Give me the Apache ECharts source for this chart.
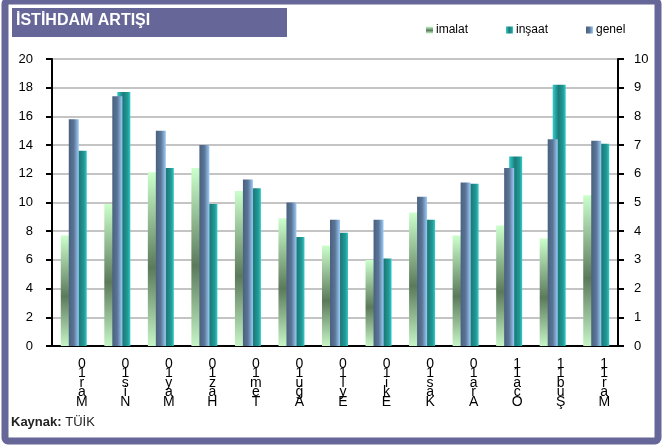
<!DOCTYPE html>
<html>
<head>
<meta charset="utf-8">
<script src="https://cdn.jsdelivr.net/npm/echarts@6/dist/echarts.min.js"></script>
<style>
  html, body { margin: 0; padding: 0; background: #fff; }
  #chart { width: 663px; height: 446px; }
</style>
</head>
<body>
<div id="chart"></div>
<script>
// aylar (etiketler ters çevrilip alt alta yazılıyor)
var months = ['Mar10', 'Nis10', 'May10', 'Haz10', 'Tem10', 'Ağu10', 'Eyl10',
              'Eki10', 'Kas10', 'Ara10', 'Oca11', 'Şub11', 'Mar11'];
// sol eksen
var imalat = [7.7, 9.9, 12.1, 12.4, 10.8, 8.9, 7.0, 6.0, 9.3, 7.7, 8.4, 7.5, 10.5];
var insaat = [13.6, 17.7, 12.4, 9.9, 11.0, 7.6, 7.9, 6.1, 8.8, 11.3, 13.2, 18.2, 14.1];
// sağ eksen
var genel = [7.9, 8.7, 7.5, 7.0, 5.8, 5.0, 4.4, 4.4, 5.2, 5.7, 6.2, 7.2, 7.15];
var leftTicks = [0, 20, 2];
var rightTicks = [0, 10, 1];

var purple = '#666699';
var font = 'Liberation Sans, Arial, sans-serif';

var chart = echarts.init(document.getElementById('chart'));

var imalatColor = new echarts.graphic.LinearGradient(0, 0, 0, 1, [
  { offset: 0, color: '#ccffcc' },
  { offset: 0.55, color: '#5b7a5b' },
  { offset: 1, color: '#c6f5c6' }
]);
var insaatColor = new echarts.graphic.LinearGradient(0, 0, 1, 0, [
  { offset: 0, color: '#33cccc' },
  { offset: 0.45, color: '#1b7b78' },
  { offset: 0.8, color: '#239a96' },
  { offset: 1, color: '#33cccc' }
]);
var genelColor = new echarts.graphic.LinearGradient(0, 0, 1, 0, [
  { offset: 0, color: '#4a6180' },
  { offset: 0.5, color: '#5b7596' },
  { offset: 1, color: '#9ccbf7' }
]);

function legendAt(name, left) {
  return {
    data: [name], left: left, top: 19, itemWidth: 7, itemHeight: 7,
    itemGap: 0, selectedMode: false, icon: 'rect',
    textStyle: { fontFamily: font, fontSize: 12, color: '#000', padding: [0, 0, 0, -2] }
  };
}

var option = {
  animation: false,
  textStyle: { fontFamily: font },
  graphic: [
    { type: 'rect', shape: { x: 5, y: 1, width: 653, height: 440, r: 3 },
      style: { fill: 'none', stroke: purple, lineWidth: 7 } },
    { type: 'rect', shape: { x: 12, y: 8, width: 275, height: 29 },
      style: { fill: purple } },
    { type: 'text', left: 16, top: 13,
      style: { text: 'İSTİHDAM ARTIŞI', fill: '#fff', font: 'bold 16px ' + font } },
    { type: 'text', left: 11, top: 416,
      style: { text: '{b|Kaynak:} TÜİK', fill: '#222', font: '13px ' + font,
        rich: { b: { fontWeight: 'bold', fontSize: 13, fontFamily: font, fill: '#222' } } } }
  ],
  legend: [legendAt('imalat', 421), legendAt('inşaat', 501), legendAt('genel', 581)],
  grid: { left: 52, right: 45, top: 59, bottom: 100 },
  xAxis: [
    {
      type: 'category', data: months,
      axisLine: { lineStyle: { color: '#000', width: 2 } },
      axisTick: { lineStyle: { color: '#000', width: 2 }, length: 5 },
      axisLabel: {
        color: '#000', fontSize: 14, lineHeight: 9.5, margin: 13,
        padding: [0, 0, 0, 16],
        formatter: function (v) { return v.split('').reverse().join('\n'); }
      }
    },
    { type: 'category', data: months, show: false }
  ],
  yAxis: [
    {
      type: 'value', min: leftTicks[0], max: leftTicks[1], interval: leftTicks[2],
      axisLine: { show: true, lineStyle: { color: '#000', width: 2 } },
      axisTick: { show: true, lineStyle: { color: '#000', width: 2 }, length: 6 },
      axisLabel: { color: '#000', fontSize: 13, margin: 19 },
      splitLine: { lineStyle: { color: '#c4c4c4', width: 2 } }
    },
    {
      type: 'value', min: rightTicks[0], max: rightTicks[1], interval: rightTicks[2],
      axisLine: { show: true, lineStyle: { color: '#000', width: 2 } },
      axisTick: { show: true, lineStyle: { color: '#000', width: 2 }, length: 6 },
      axisLabel: { color: '#000', fontSize: 13, margin: 16 },
      splitLine: { show: false }
    }
  ],
  series: [
    { name: 'imalat', type: 'bar', data: imalat, xAxisIndex: 0, yAxisIndex: 0,
      barWidth: 13, barGap: '0%', itemStyle: { color: imalatColor } },
    { name: 'inşaat', type: 'bar', data: insaat, xAxisIndex: 0, yAxisIndex: 0,
      barWidth: 13, barGap: '0%', itemStyle: { color: insaatColor } },
    { name: 'genel', type: 'bar', data: genel, xAxisIndex: 1, yAxisIndex: 1,
      barWidth: 10, z: 3, itemStyle: { color: genelColor } }
  ]
};

chart.setOption(option);
</script>
</body>
</html>
